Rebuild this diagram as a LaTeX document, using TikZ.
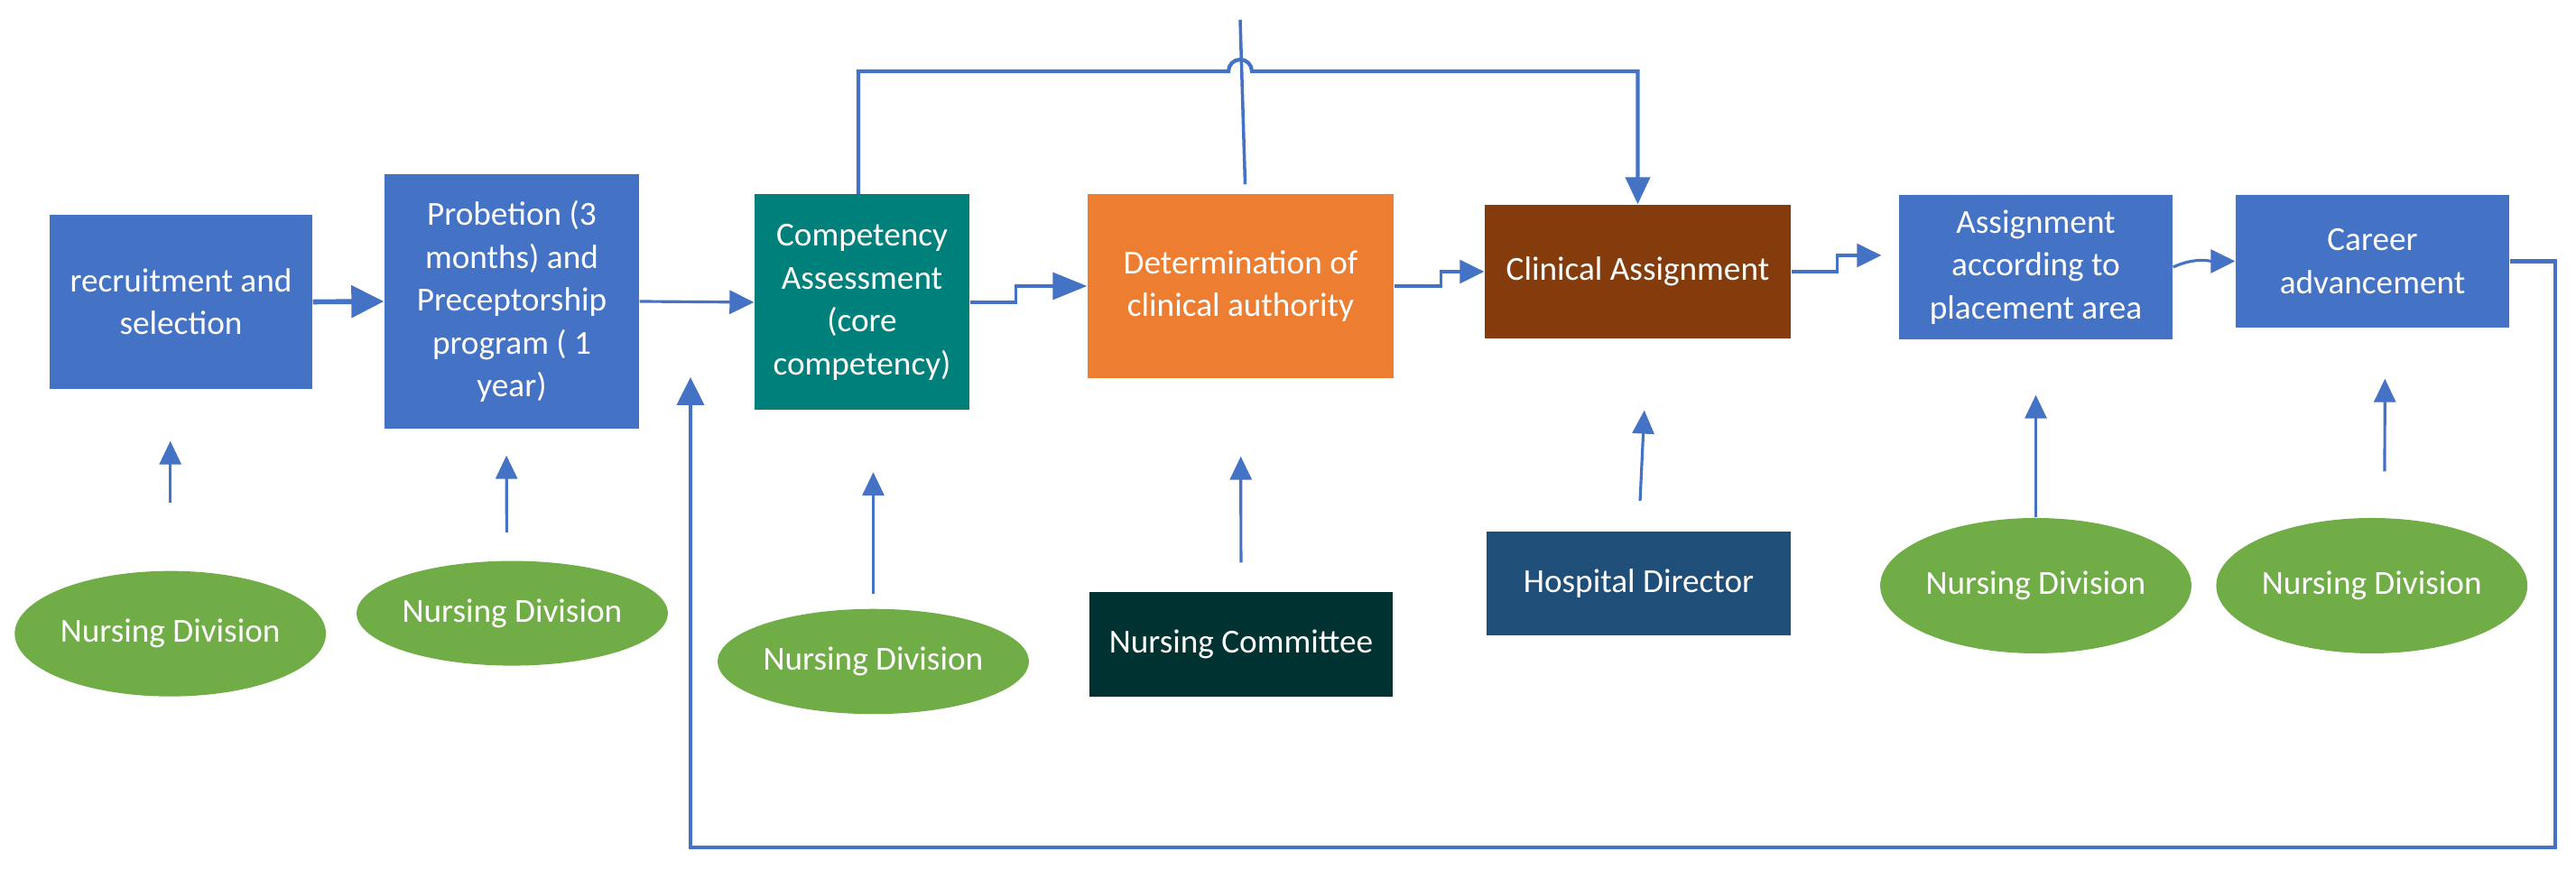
\documentclass[tikz,border=0pt]{standalone}
\usepackage{fontspec}
\setmainfont{Carlito}
\usetikzlibrary{arrows.meta,shapes.geometric}

\definecolor{stepblue}{RGB}{68,114,196}
\definecolor{compteal}{RGB}{0,128,122}
\definecolor{detorange}{RGB}{237,125,49}
\definecolor{clinbrown}{RGB}{132,60,12}
\definecolor{committeeteal}{RGB}{0,50,50}
\definecolor{directorblue}{RGB}{31,78,121}
\definecolor{divgreen}{RGB}{112,173,71}

\begin{document}
\begin{tikzpicture}[
    box/.style={rectangle, fill=#1, text=white, align=center, inner sep=0pt,
      font=\fontsize{10.6}{13.5}\selectfont},
    division/.style={ellipse, fill=divgreen, text=white, inner sep=0pt,
      font=\fontsize{10.6}{13.5}\selectfont},
    flow/.style={draw=stepblue, line width=0.9pt,
      -{Triangle[length=0.27cm,width=0.26cm]}},
    bigflow/.style={draw=stepblue, line width=1.6pt,
      -{Triangle[length=0.36cm,width=0.35cm]}},
    stepflow/.style={draw=stepblue, line width=0.9pt,
      -{Triangle[length=0.38cm,width=0.3cm]}},
    upflow/.style={draw=stepblue, line width=0.9pt,
      -{Triangle[length=0.26cm,width=0.24cm]}},
    topline/.style={draw=stepblue, line width=1.2pt}
]
    \useasboundingbox (0,0) rectangle (28.54,9.74);
    % Process steps
    \node[box=stepblue, minimum width=2.91cm, minimum height=1.93cm] (recruit) at (2.005,6.395) {recruitment and\\selection};
    \node[box=stepblue, minimum width=2.82cm, minimum height=2.82cm] (probation) at (5.67,6.40) {Probetion (3\\months) and\\Preceptorship\\program ( 1\\year)};
    \node[box=compteal, minimum width=2.38cm, minimum height=2.39cm] (comp) at (9.55,6.39) {Competency\\Assessment\\(core\\competency)};
    \node[box=detorange, minimum width=3.39cm, minimum height=2.04cm] (det) at (13.745,6.57) {Determination of\\clinical authority};
    \node[box=clinbrown, minimum width=3.39cm, minimum height=1.48cm] (clin) at (18.145,6.73) {Clinical Assignment};
    \node[box=stepblue, minimum width=3.03cm, minimum height=1.60cm] (assign) at (22.555,6.78) {Assignment\\according to\\placement area};
    \node[box=stepblue, minimum width=3.03cm, minimum height=1.47cm] (career) at (26.285,6.845) {Career\\advancement};

    % Responsible units
    \node[division, minimum width=3.37cm, minimum height=1.39cm] (div1) at (1.887,2.718) {Nursing Division};
    \node[division, minimum width=3.39cm, minimum height=1.16cm] (div2) at (5.675,2.944) {Nursing Division};
    \node[division, minimum width=3.37cm, minimum height=1.165cm] (div3) at (9.675,2.41) {Nursing Division};
    \node[box=committeeteal, minimum width=3.36cm, minimum height=1.16cm] (committee) at (13.75,2.60) {Nursing Committee};
    \node[box=directorblue, minimum width=3.37cm, minimum height=1.154cm] (director) at (18.155,3.277) {Hospital Director};
    \node[division, minimum width=3.37cm, minimum height=1.50cm] (div4) at (22.555,3.25) {Nursing Division};
    \node[division, minimum width=3.35cm, minimum height=1.50cm] (div5) at (26.278,3.25) {Nursing Division};

    % Arrows up from the units
    \draw[upflow, shorten <=0.75cm, shorten >=0.57cm] (div1.north) -- (div1.north |- recruit.south);
    \draw[upflow, shorten <=0.31cm, shorten >=0.29cm] ([xshift=-0.06cm]div2.north) -- ([xshift=-0.06cm]probation.south);
    \draw[upflow, shorten <=0.16cm, shorten >=0.68cm] (div3.north) -- (div3.north |- comp.south);
    \draw[upflow, shorten <=0.32cm, shorten >=0.86cm] (committee.north) -- (det.south);
    \draw[upflow, shorten <=0.33cm, shorten >=0.79cm] (director.north) -- ([xshift=0.11cm]clin.south);
    \draw[upflow, shorten >=0.61cm] (div4.north) -- (div4.north |- assign.south);
    \draw[upflow, shorten <=0.51cm, shorten >=0.56cm] ([xshift=0.14cm]div5.north) -- ([xshift=0.14cm]career.south);

    % Main flow
    \draw[bigflow] (recruit.east) -- (probation.west);
    \draw[flow] (probation.east) -- (comp.west);
    \draw[stepflow] (comp.east) -- ++(0.51,0) |- (det.west);
    \draw[flow] (det.east) -- ++(0.52,0) |- (clin.west);
    \draw[flow] (clin.east) -- ++(0.51,0) |- ([xshift=-0.19cm,yshift=0.13cm]assign.west);
    \draw[flow] (assign.east) to[out=25,in=180] (career.west);

    % Link over the top, with a hop
    \coordinate (hop) at (13.74,8.95);
    \coordinate (toptip) at (13.74,9.52);
    \draw[topline, -{Triangle[length=0.3cm,width=0.27cm]}] ([xshift=-0.04cm]comp.north) |- ([xshift=-0.13cm]hop)
        arc[start angle=180, end angle=0, radius=0.13cm] -| (clin.north);
    \draw[draw=stepblue, line width=1pt] ([xshift=0.05cm,yshift=0.1cm]det.north) -- (toptip);

    % Loop back
    \coordinate (loopcorner) at (28.31,0.35);
    \coordinate (loopend) at (7.65,5.56);
    \draw[topline, -{Triangle[length=0.31cm,width=0.3cm]}] (career.east) -| (loopcorner) -| (loopend);
\end{tikzpicture}
\end{document}
